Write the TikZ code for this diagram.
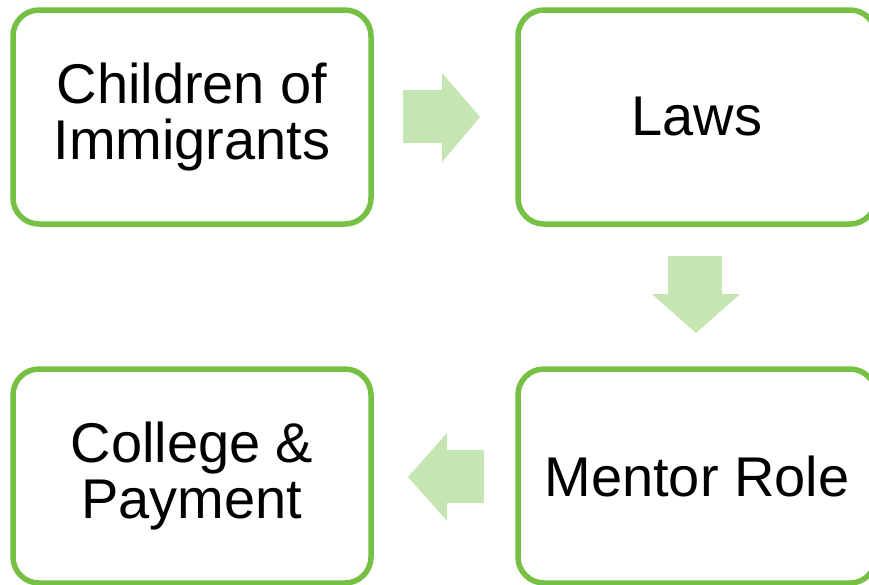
\documentclass[tikz,border=0pt]{standalone}
\usepackage{fontspec}
\setmainfont{Liberation Sans}
\definecolor{boxgreen}{RGB}{118,192,67}
\definecolor{arrowgreen}{RGB}{197,230,179}
\begin{document}
\begin{tikzpicture}[x=1pt,y=-1pt,
  stepbox/.style={draw=boxgreen, line width=5.5pt, rounded corners=26pt, fill=white,
    minimum width=358pt, minimum height=214pt, inner sep=0pt, align=center,
    font=\fontsize{56}{56}\selectfont, text=black},
  flowarrow/.style={fill=arrowgreen, draw=none}]
\useasboundingbox (0,0) rectangle (869,584);
\node[stepbox] (a) at (192,117) {Children of\\Immigrants};
\node[stepbox] (b) at (697,117) {Laws};
\node[stepbox] (c) at (697,476) {Mentor Role};
\node[stepbox] (d) at (192,476) {College \&\\Payment};
\fill[flowarrow] (403,90) -- (442,90) -- (442,73) -- (480,117) -- (442,162) -- (442,143) -- (403,143) -- cycle;
\fill[flowarrow] (668,256) -- (722,256) -- (722,294) -- (740,294) -- (696,333) -- (652,294) -- (668,294) -- cycle;
\fill[flowarrow] (484,450) -- (447,450) -- (447,433) -- (408,477) -- (447,521) -- (447,503) -- (484,503) -- cycle;
\end{tikzpicture}
\end{document}
